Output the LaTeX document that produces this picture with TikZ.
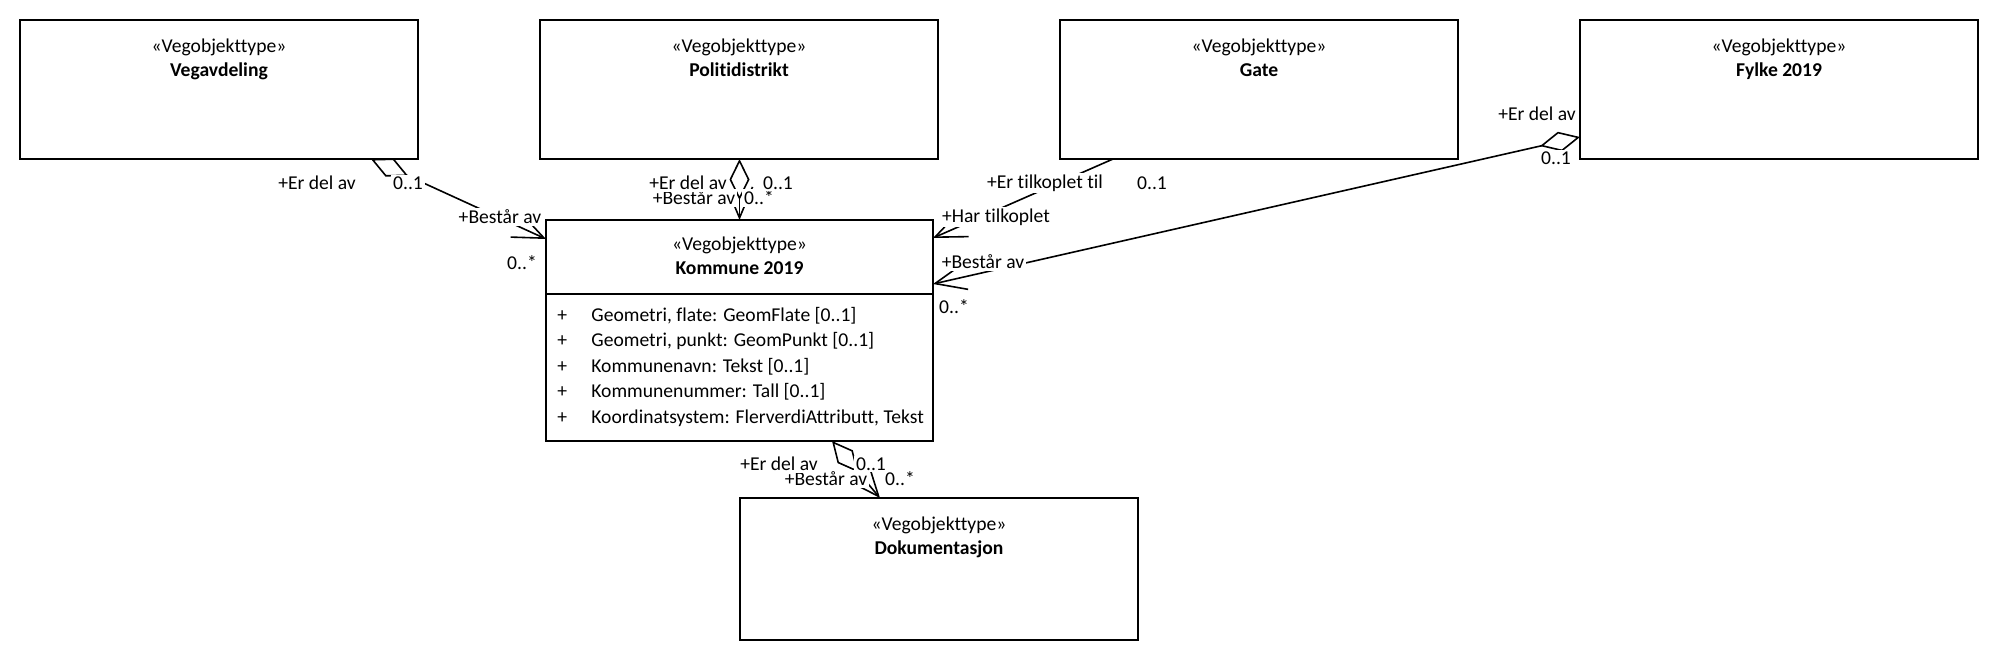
\documentclass[tikz,border=0pt]{standalone}
\usepackage{fontspec}
\setmainfont{Carlito}[Ligatures=NoCommon]
\usepackage{tikz}
\usetikzlibrary{calc}
\usetikzlibrary{arrows.meta}
\newcommand{\widthklasse}{199pt}
\newcommand{\heightklasse}{69.5pt}
\newcommand{\stereotype}{«Vegobjekttype»}
\newcommand{\klassefont}{\fontsize{9.8pt}{12pt}\selectfont}
\tikzset{
    common/.style={anchor=north west, draw, rectangle, line width=1.1pt, inner sep=0pt, outer sep=0pt},
    klasse/.style={common, minimum width=\widthklasse, minimum height=\heightklasse},
    tittel/.style={anchor=base, inner sep=0pt},
    attributt/.style={anchor=base west, inner sep=0pt},
    rolle/.style={fill=white, inner sep=1pt},
    assoc/.style={line width=0.8pt, arrows={-Straight Barb[length=15.5pt, width=13pt]}},
    aggr/.style={line width=0.8pt, arrows={Diamond[open, length=20.5pt, width=10pt]-Straight Barb[length=15.5pt, width=13pt]}}
}

\begin{document}
\begin{tikzpicture}[x=0.5pt, y=-0.5pt, every node/.style={font=\klassefont}]
    \useasboundingbox (0,0) rectangle (2000,660);

    \node[klasse] (vegavdeling) at (20,20) {};
    \node[klasse] (politidistrikt) at (540,20) {};
    \node[klasse] (gate) at (1060,20) {};
    \node[klasse] (fylke) at (1580,20) {};
    \node[klasse, minimum width=193.5pt, minimum height=110.5pt] (kommune) at (546,220) {};
    \node[klasse, minimum height=71pt] (dokumentasjon) at (740,498) {};

    \foreach \boks/\navn in {vegavdeling/Vegavdeling, politidistrikt/Politidistrikt, gate/Gate, fylke/Fylke 2019, dokumentasjon/Dokumentasjon} {
        \node[tittel] (\boks-stereotype) at ($(\boks.north)+(0,32)$) {\stereotype};
        \node[tittel] (\boks-navn) at ($(\boks.north)+(0,56)$) {\textbf{\navn}};
    }
    \node[tittel] (kommune-stereotype) at ($(kommune.north)+(0,30)$) {\stereotype};
    \node[tittel] (kommune-navn) at ($(kommune.north)+(0,54)$) {\textbf{Kommune 2019}};

    \draw[line width=1.1pt] ($(kommune.north west)+(0,74)$) -- ($(kommune.north east)+(0,74)$);

    \foreach \attr [count=\i] in {{Geometri, flate: GeomFlate [0..1]}, {Geometri, punkt: GeomPunkt [0..1]}, {Kommunenavn: Tekst [0..1]}, {Kommunenummer: Tall [0..1]}, {Koordinatsystem: FlerverdiAttributt, Tekst}} {
        \node[attributt] (pluss-\i) at (557, {321 + 25.5*(\i-1)}) {+};
        \node[attributt] (attr-\i) at (591, {321 + 25.5*(\i-1)}) {\attr};
    }

    \draw[aggr] ($(vegavdeling.south west)+(351,0)$) -- ($(kommune.north west)+(0,19)$);
    \draw[aggr] (kommune.north |- politidistrikt.south) -- (kommune.north);
    \draw[assoc] ($(gate.south west)+(53,0)$) -- ($(kommune.north east)+(0,18)$);
    \draw[aggr] ($(fylke.south west)+(0,-22)$) -- ($(kommune.north east)+(0,64)$);
    \draw[aggr] ($(kommune.south east)+(-101,0)$) -- ($(dokumentasjon.north west)+(140,0)$);

    \node[rolle] (vd-maal-rolle) at (500,217) {+Består av};
    \node[rolle] (vd-maal-mult) at (522,263) {0..*};
    \node[rolle] (vd-kilde-rolle) at (317,183) {+Er del av};
    \node[rolle] (vd-kilde-mult) at (408,183) {0..1};

    \node[rolle] (pd-maal-rolle) at (694,198) {+Består av};
    \node[rolle] (pd-maal-mult) at (759,198) {0..*};
    \node[rolle] (pd-kilde-rolle) at (688,183) {+Er del av};
    \node[rolle] (pd-kilde-mult) at (778,183) {0..1};

    \node[rolle] (gt-maal-rolle) at (996,217) {+Har tilkoplet};
    \node[rolle] (gt-kilde-rolle) at (1045,183) {+Er tilkoplet til};
    \node[rolle] (gt-kilde-mult) at (1152,183) {0..1};

    \node[rolle] (fy-maal-rolle) at (983,262) {+Består av};
    \node[rolle] (fy-maal-mult) at (954,307) {0..*};
    \node[rolle] (fy-kilde-rolle) at (1537,114) {+Er del av};
    \node[rolle] (fy-kilde-mult) at (1556,158) {0..1};

    \node[rolle] (dk-maal-rolle) at (826,479) {+Består av};
    \node[rolle] (dk-maal-mult) at (900,479) {0..*};
    \node[rolle] (dk-kilde-rolle) at (779,464) {+Er del av};
    \node[rolle] (dk-kilde-mult) at (871,464) {0..1};
\end{tikzpicture}
\end{document}
